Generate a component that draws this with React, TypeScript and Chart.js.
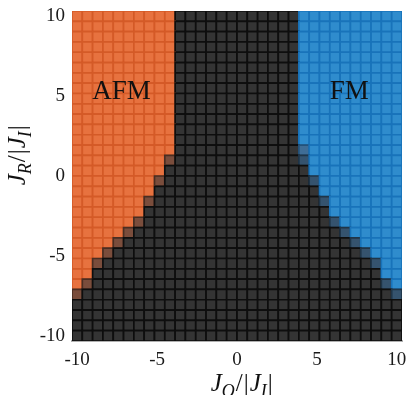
import React, { useEffect, useRef } from 'react';
import { Chart, registerables } from 'chart.js';

Chart.register(...registerables);

// Grid coordinates (cell centres) for J_O/|J_I| and J_R/|J_I|
const jO = [
  -10, -9.3548, -8.7097, -8.0645, -7.4194, -6.7742, -6.129, -5.4839,
  -4.8387, -4.1935, -3.5484, -2.9032, -2.2581, -1.6129, -0.9677, -0.3226,
  0.3226, 0.9677, 1.6129, 2.2581, 2.9032, 3.5484, 4.1935, 4.8387,
  5.4839, 6.129, 6.7742, 7.4194, 8.0645, 8.7097, 9.3548, 10,
];
// rows listed from top (J_R = 10) to bottom (J_R = -10)
const jR = [
  10, 9.3548, 8.7097, 8.0645, 7.4194, 6.7742, 6.129, 5.4839,
  4.8387, 4.1935, 3.5484, 2.9032, 2.2581, 1.6129, 0.9677, 0.3226,
  -0.3226, -0.9677, -1.6129, -2.2581, -2.9032, -3.5484, -4.1935, -4.8387,
  -5.4839, -6.129, -6.7742, -7.4194, -8.0645, -8.7097, -9.3548, -10,
];
// phase of each cell, one row per jR value, run-length coded (phase letter + count)
// A = AFM, F = FM, D = other, a/f/b = mixed boundary cells
const phaseRows = [
  'A10 D12 F10', 'A10 D12 F10', 'A10 D12 F10', 'A10 D12 F10',
  'A10 D12 F10', 'A10 D12 F10', 'A10 D12 F10', 'A10 D12 F10',
  'A10 D12 F10', 'A10 D12 F10', 'A10 D12 F10', 'A10 D12 F10',
  'A10 D12 F10', 'A10 D12 b1 F9', 'A9 a1 D12 f1 F9', 'A9 D14 F9',
  'A8 a1 D14 f1 F8', 'A8 D16 F8', 'A7 a1 D16 f1 F7', 'A7 D18 F7',
  'A6 a1 D18 f1 F6', 'A5 a1 D20 f1 F5', 'A4 a1 D22 f1 F4', 'A3 a1 D24 f1 F3',
  'A2 a1 D26 f1 F2', 'A2 D28 F2', 'A1 a1 D28 f1 F1', 'a1 D30 f1',
  'D32', 'D32', 'D32', 'D32',
];
const axisMin = -10.3226;
const axisMax = 10.3226;
const tickValues = [-10, -5, 0, 5, 10];
const tickLabels = ['-10', '-5', '0', '5', '10'];
const phaseLabels = ['AFM', 'FM'];
const phaseLabelX = [-7.23, 7.03];
const phaseLabelY = [5.25, 5.25];

const fillColors: Record<string, string> = {
  A: '#E7723F',
  D: '#343434',
  F: '#2F8CCD',
  a: '#7A4D3C',
  f: '#35536E',
  b: '#3F6D96',
};
const edgeColors: Record<string, string> = {
  A: '#D45A27',
  D: '#0E0E0E',
  F: '#1873BA',
  a: '#4A2E22',
  f: '#1F3548',
  b: '#24527A',
};

type Cell = { x: number; y: number; p: string };

function buildCells(): Cell[] {
  const cells: Cell[] = [];
  phaseRows.forEach((row, r) => {
    let c = 0;
    row.split(' ').forEach((run) => {
      const p = run[0];
      const n = parseInt(run.slice(1), 10);
      for (let k = 0; k < n; k++) {
        cells.push({ x: jO[c], y: jR[r], p });
        c++;
      }
    });
  });
  return cells;
}

type Part = { t: string; it?: boolean; sub?: boolean; gap?: number };
const xTitle: Part[] = [
  { t: 'J', it: true }, { t: 'O', it: true, sub: true, gap: 1 }, { t: '/', gap: 1 }, { t: '|', gap: 1 },
  { t: 'J', it: true }, { t: 'I', it: true, sub: true, gap: 1 }, { t: '|' },
];
const yTitle: Part[] = [
  { t: 'J', it: true }, { t: 'R', it: true, sub: true, gap: 1 }, { t: '/', gap: 1 }, { t: '|', gap: 1 },
  { t: 'J', it: true }, { t: 'I', it: true, sub: true, gap: 1 }, { t: '|' },
];

const FONT = '"Liberation Serif", "DejaVu Serif", serif';

function partFont(p: Part, size: number) {
  const s = p.sub ? Math.round(size * 0.7) : size;
  return `${p.it ? 'italic ' : ''}${s}px ${FONT}`;
}

function drawParts(ctx: CanvasRenderingContext2D, parts: Part[], size: number, cx: number, base: number) {
  let w = 0;
  const widths = parts.map((p) => {
    ctx.font = partFont(p, size);
    const m = ctx.measureText(p.t).width + (p.gap ?? 0);
    w += m;
    return m;
  });
  let x = cx - w / 2;
  ctx.textAlign = 'left';
  ctx.textBaseline = 'alphabetic';
  parts.forEach((p, i) => {
    ctx.font = partFont(p, size);
    ctx.fillText(p.t, x, base + (p.sub ? size * 0.22 : 0));
    x += widths[i];
  });
}

const annotPlugin = {
  id: 'annot',
  afterDraw(chart: any) {
    const ctx: CanvasRenderingContext2D = chart.ctx;
    const xs = chart.scales.x;
    const ys = chart.scales.y;
    ctx.save();
    ctx.fillStyle = '#111';
    ctx.font = `27px ${FONT}`;
    ctx.textAlign = 'center';
    ctx.textBaseline = 'middle';
    phaseLabels.forEach((t, i) => {
      ctx.fillText(t, xs.getPixelForValue(phaseLabelX[i]), ys.getPixelForValue(phaseLabelY[i]));
    });
    drawParts(ctx, xTitle, 25, xs.getPixelForValue(0.3), 391);
    ctx.translate(25, ys.getPixelForValue(1.3));
    ctx.rotate(-Math.PI / 2);
    drawParts(ctx, yTitle, 25, 0, 0);
    ctx.restore();
  },
};

export default function App() {
  const ref = useRef<HTMLCanvasElement | null>(null);

  useEffect(() => {
    if (!ref.current) return;
    const cells = buildCells();
    const radius = (c: any) => {
      const xs = c.chart.scales.x;
      if (!xs) return 7;
      const side = Math.abs(xs.getPixelForValue(jO[1]) - xs.getPixelForValue(jO[0]));
      return side / Math.SQRT2;
    };
    const chart = new Chart(ref.current, {
      type: 'scatter',
      data: {
        datasets: [
          {
            data: cells as any,
            pointStyle: 'rect',
            pointRadius: radius,
            pointHoverRadius: radius,
            backgroundColor: (c: any) => fillColors[c.raw?.p ?? 'D'],
            borderColor: (c: any) => edgeColors[c.raw?.p ?? 'D'],
            borderWidth: 1.7,
            pointBorderWidth: 1.7,
          } as any,
        ],
      },
      options: {
        animation: false,
        responsive: true,
        maintainAspectRatio: false,
        events: [],
        layout: { padding: { left: 0, right: 4, top: 11, bottom: 0 } },
        plugins: {
          legend: { display: false },
          tooltip: { enabled: false },
        },
        scales: {
          x: {
            type: 'linear',
            min: axisMin,
            max: axisMax,
            afterBuildTicks: (s: any) => {
              s.ticks = tickValues.map((v) => ({ value: v }));
            },
            afterFit: (s: any) => {
              s.height = 54;
              s.paddingLeft = 0;
              s.paddingRight = 0;
            },
            ticks: {
              maxRotation: 0,
              autoSkip: false,
              padding: 8,
              color: '#1a1a1a',
              font: { family: FONT, size: 19 },
              callback: (v: any) => {
                const i = tickValues.indexOf(Number(v));
                return i >= 0 ? tickLabels[i] : '';
              },
            },
            grid: { drawOnChartArea: false, drawTicks: false },
            border: { display: true, color: '#b0b0b0', width: 2 },
          },
          y: {
            type: 'linear',
            min: axisMin,
            max: axisMax,
            afterBuildTicks: (s: any) => {
              s.ticks = tickValues.map((v) => ({ value: v }));
            },
            afterFit: (s: any) => {
              s.width = 72;
              s.paddingTop = 0;
              s.paddingBottom = 0;
            },
            ticks: {
              autoSkip: false,
              padding: 7,
              color: '#1a1a1a',
              font: { family: FONT, size: 19 },
              callback: (v: any) => {
                const i = tickValues.indexOf(Number(v));
                return i >= 0 ? tickLabels[i] : '';
              },
            },
            grid: { drawOnChartArea: false, drawTicks: false },
            border: { display: false },
          },
        },
      } as any,
      plugins: [annotPlugin],
    });
    return () => chart.destroy();
  }, []);

  return (
    <div style={{ position: 'fixed', left: 0, top: 0, width: '406px', height: '395px', background: '#fff' }}>
      <canvas ref={ref} />
    </div>
  );
}
